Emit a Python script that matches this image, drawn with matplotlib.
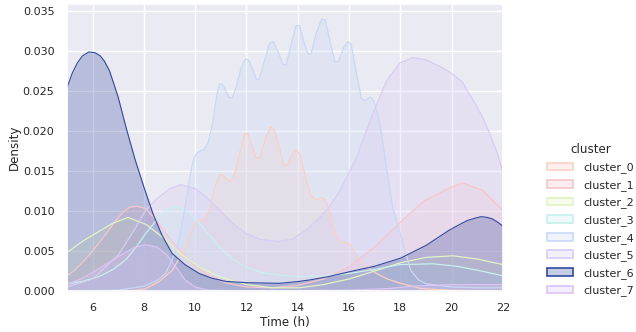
import numpy as np
import matplotlib
matplotlib.use("Agg")
import matplotlib.pyplot as plt
from matplotlib.patches import Patch
import seaborn as sns

# density curves (x in hours, y density)
c0_x = [5, 7.5, 8.07, 8.6, 9.11, 9.64, 9.85, 10.0, 10.15, 10.35, 10.55, 10.75, 10.92, 11.05, 11.2, 11.38,
        11.5, 11.75, 11.92, 12.05, 12.2, 12.38, 12.52, 12.75, 12.93, 13.07, 13.25, 13.45, 13.6, 13.82, 13.95,
        14.1, 14.3, 14.5, 14.7, 14.95, 15.1, 15.3, 15.5, 15.7, 15.95, 16.1, 16.3, 16.6, 17.06, 17.5, 17.97,
        18.8, 20, 22]
c0_y = [0, 0, 0.0003, 0.0012, 0.0026, 0.0055, 0.0075, 0.0085, 0.0088, 0.0089, 0.0100, 0.0128, 0.0144,
        0.0146, 0.0141, 0.0137, 0.0142, 0.0175, 0.0196, 0.0197, 0.0183, 0.0166, 0.0167, 0.0192, 0.0205,
        0.0203, 0.0183, 0.0158, 0.0158, 0.0174, 0.0177, 0.0170, 0.0143, 0.0120, 0.0114, 0.0117, 0.0112,
        0.0093, 0.0070, 0.0061, 0.0060, 0.0056, 0.0043, 0.0032, 0.0022, 0.0015, 0.0010, 0.0003, 0.0001, 0]

c1_x = [5, 5.3, 5.6, 5.95, 6.25, 6.6, 6.9, 7.2, 7.45, 7.75, 8.07, 8.45, 8.85, 9.25, 9.63, 10.0, 10.4, 11.2,
        12, 13, 14, 15, 16, 17, 17.97, 18.9, 19.9, 20.44, 21.2, 22]
c1_y = [0.0019, 0.0026, 0.0036, 0.0048, 0.0060, 0.0075, 0.0088, 0.0099, 0.0105, 0.0106, 0.0103, 0.0090,
        0.0072, 0.0056, 0.0043, 0.0031, 0.0022, 0.0010, 0.0005, 0.0004, 0.0007, 0.0015, 0.0030, 0.0055,
        0.0085, 0.0112, 0.0129, 0.0135, 0.0126, 0.0101]

c2_x = [5, 5.6, 6.22, 6.8, 7.38, 8.1, 8.85, 9.5, 10.16, 10.94, 12, 13, 14.06, 15, 16, 17, 17.97, 19, 20.05,
        21, 22]
c2_y = [0.0048, 0.0062, 0.0074, 0.0085, 0.0092, 0.0083, 0.0064, 0.0045, 0.0030, 0.0018, 0.0008, 0.0004,
        0.0004, 0.0008, 0.0015, 0.0025, 0.0035, 0.0042, 0.0044, 0.0040, 0.0033]

c3_x = [5, 5.6, 6.25, 6.8, 7.29, 7.7, 8.07, 8.6, 8.9, 9.2, 9.5, 9.85, 10.16, 10.55, 10.94, 11.45, 11.98,
        12.6, 13.28, 14.06, 15, 16, 17, 17.97, 19.26, 20.2, 21, 22]
c3_y = [0.0009, 0.0012, 0.0018, 0.0027, 0.0039, 0.0055, 0.0072, 0.0093, 0.0102, 0.0105, 0.0103, 0.0095,
        0.0085, 0.0070, 0.0055, 0.0040, 0.0030, 0.0023, 0.0020, 0.0018, 0.0019, 0.0022, 0.0027, 0.0033,
        0.0034, 0.0031, 0.0026, 0.0019]

c4_x = [5, 7, 8, 8.5, 8.85, 9.1, 9.375, 9.6, 9.77, 9.92, 10.05, 10.2, 10.35, 10.5, 10.68, 10.85, 10.95, 11.05,
        11.2, 11.32, 11.45, 11.6, 11.8, 11.95, 12.08, 12.25, 12.38, 12.5, 12.7, 12.9, 13.05, 13.25, 13.42,
        13.55, 13.75, 13.93, 14.07, 14.25, 14.4, 14.52, 14.72, 14.93, 15.07, 15.25, 15.45, 15.58, 15.8,
        15.95, 16.08, 16.3, 16.48, 16.62, 16.82, 16.95, 17.12, 17.3, 17.45, 17.7, 17.9, 18.1, 18.4, 18.7,
        19.0, 20, 21, 22]
c4_y = [0, 0.0001, 0.0006, 0.0013, 0.0022, 0.0039, 0.0064, 0.0105, 0.0139, 0.0163, 0.0172, 0.0175, 0.0177,
        0.0185, 0.0210, 0.0247, 0.0259, 0.0259, 0.0250, 0.0242, 0.0242, 0.0255, 0.0280, 0.0290, 0.0289,
        0.0277, 0.0265, 0.0265, 0.0288, 0.0310, 0.0312, 0.0298, 0.0283, 0.0283, 0.0310, 0.0332, 0.0332,
        0.0310, 0.0296, 0.0297, 0.0322, 0.0340, 0.0339, 0.0313, 0.0286, 0.0287, 0.0305, 0.0312, 0.0309,
        0.0270, 0.0241, 0.0238, 0.0243, 0.0238, 0.0222, 0.0190, 0.0155, 0.0105, 0.0082, 0.0060, 0.0026,
        0.0014, 0.0009, 0.0005, 0.0004, 0.0004]

c5_x = [5, 6, 7, 7.6, 8.07, 8.46, 9.0, 9.45, 10.0, 10.41, 10.94, 11.45, 11.98, 12.6, 13.28, 13.8, 14.32,
        14.8, 15.23, 15.63, 16.27, 16.93, 17.45, 17.97, 18.49, 19.0, 19.53, 19.92, 20.4, 20.83, 21.2,
        21.48, 21.75, 22]
c5_y = [0.0005, 0.0015, 0.0045, 0.0075, 0.0101, 0.0114, 0.0128, 0.0133, 0.0128, 0.0118, 0.0101, 0.0085,
        0.0072, 0.0064, 0.0062, 0.0065, 0.0076, 0.0090, 0.0105, 0.0125, 0.0165, 0.0222, 0.0262, 0.0285,
        0.0292, 0.0289, 0.0281, 0.0274, 0.0262, 0.0239, 0.0218, 0.0197, 0.0175, 0.0149]

c6_x = [5, 5.2, 5.4, 5.6, 5.85, 6.1, 6.3, 6.45, 6.65, 6.85, 7.0, 7.3, 7.65, 8.0, 8.35, 8.7, 9.1, 9.6, 10.15,
        10.65, 11.2, 12.0, 13.3, 14.05, 14.5, 15.2, 16.0, 17.0, 18.0, 19.0, 19.9, 20.3, 20.6, 20.9, 21.15,
        21.4, 21.6, 21.8, 22]
c6_y = [0.0254, 0.0272, 0.0285, 0.0294, 0.0299, 0.0298, 0.0294, 0.0288, 0.0276, 0.0257, 0.0242, 0.0205,
        0.0165, 0.0130, 0.0097, 0.0070, 0.0047, 0.0033, 0.0022, 0.0016, 0.0012, 0.00104, 0.00096, 0.0012,
        0.0014, 0.0018, 0.0024, 0.0031, 0.0041, 0.0057, 0.0076, 0.0083, 0.0088, 0.0091, 0.0093, 0.0092,
        0.0090, 0.0086, 0.0081]

c7_x = [5, 5.6, 6.2, 7.0, 7.6, 8.05, 8.5, 8.9, 9.25, 9.6, 10.0, 10.5, 12, 16, 17.5, 18.5, 20, 22]
c7_y = [0.0008, 0.0016, 0.0027, 0.0043, 0.0054, 0.0058, 0.0055, 0.0045, 0.0030, 0.0014, 0.0005, 0.0001,
        0.0, 0.0001, 0.0003, 0.0006, 0.0008, 0.0008]

clusters = ["cluster_0", "cluster_1", "cluster_2", "cluster_3",
            "cluster_4", "cluster_5", "cluster_6", "cluster_7"]
xs = [c0_x, c1_x, c2_x, c3_x, c4_x, c5_x, c6_x, c7_x]
ys = [c0_y, c1_y, c2_y, c3_y, c4_y, c5_y, c6_y, c7_y]
colors = ["#fbd0c4", "#f9c4cc", "#e2f4c4", "#c8f0ee", "#cad8f4",
          "#d8ccf4", "#34499c", "#dcc4f4"]
fill_alpha = [0.3, 0.3, 0.3, 0.3, 0.3, 0.3, 0.28, 0.3]

sns.set_theme(style="darkgrid")
plt.rcParams["font.family"] = ["DejaVu Sans"]

fig = plt.figure(figsize=(6.36, 3.32), dpi=100)
ax = fig.add_axes([0.1053, 0.1235, 0.6855, 0.8645])

for name, x, y, col, a in zip(clusters, xs, ys, colors, fill_alpha):
    ax.fill_between(x, y, 0, color=col, alpha=a, linewidth=0)
    lw = 0.8 if name == "cluster_6" else 0.9
    ax.plot(x, y, color=col, lw=lw)

ax.set_xlim(5, 22)
ax.set_ylim(0, 0.0359)
ax.set_xticks(np.arange(6, 23, 2))
ax.set_yticks(np.arange(0, 0.0351, 0.005))
ax.set_yticklabels([f"{v:.3f}" for v in np.arange(0, 0.0351, 0.005)])
ax.tick_params(labelsize=8, pad=3)
ax.set_xlabel("Time (h)", fontsize=8.6, labelpad=2)
ax.set_ylabel("Density", fontsize=8.6, labelpad=1.5)

handles = [Patch(facecolor=matplotlib.colors.to_rgba(c, a), edgecolor=c, lw=1.2)
           for c, a in zip(colors, fill_alpha)]
leg = fig.legend(handles, clusters, title="cluster", loc="center left",
                 bbox_to_anchor=(0.845, 0.339), frameon=False, fontsize=8,
                 title_fontsize=8.6, handlelength=2.3, handletextpad=0.9,
                 labelspacing=0.6)

fig.savefig("out.png", dpi=100)
